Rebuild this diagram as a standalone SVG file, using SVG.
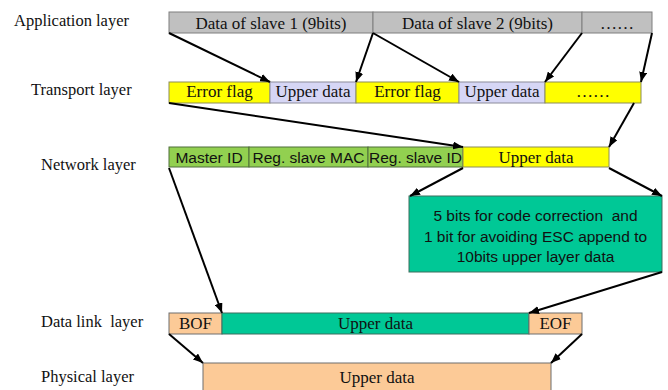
<svg xmlns="http://www.w3.org/2000/svg" width="668" height="390" viewBox="0 0 668 390">
  <style>
    .lbl { font-family: "Liberation Serif", "Times New Roman", serif; font-size: 16.5px; fill: #111; }
    .serif { font-family: "Liberation Serif", "Times New Roman", serif; font-size: 17px; fill: #111; text-anchor: middle; }
    .sans { font-family: "Liberation Sans", Arial, sans-serif; font-size: 15.5px; fill: #111; text-anchor: middle; }
    .gray { fill: #C0C0C0; stroke: #7F7F7F; stroke-width: 1; }
    .yel { fill: #FFFF00; stroke: #8C8C5A; stroke-width: 1; }
    .lav { fill: #D6D6F5; stroke: #8C8C9A; stroke-width: 1; }
    .grn { fill: #92D050; stroke: #4F6F3A; stroke-width: 1; }
    .teal { fill: #00C896; stroke: #3C6E5E; stroke-width: 1; }
    .peach { fill: #FCCA97; stroke: #6E6E6E; stroke-width: 1; }
    .conn line { stroke: #000; stroke-width: 2; marker-end: url(#arr); }
  </style>
  <defs>
    <marker id="arr" markerUnits="userSpaceOnUse" markerWidth="10" markerHeight="8" viewBox="0 0 10 8" refX="10" refY="4" orient="auto">
      <path d="M0,0 L10,4 L0,8 z" fill="#000"/>
    </marker>
  </defs>

  <rect width="668" height="390" fill="#fff"/>

  <!-- layer names -->
  <g id="layer-labels">
    <text class="lbl" x="14" y="26">Application layer</text>
    <text class="lbl" x="31" y="95">Transport layer</text>
    <text class="lbl" x="41" y="170">Network layer</text>
    <text class="lbl" x="41" y="327" xml:space="preserve">Data link  layer</text>
    <text class="lbl" x="41" y="382">Physical layer</text>
  </g>

  <!-- application layer -->
  <g id="app-slave1"><rect class="gray" x="169" y="12" width="204" height="21"/><text class="serif" x="271" y="29">Data of slave 1 (9bits)</text></g>
  <g id="app-slave2"><rect class="gray" x="373" y="12" width="209" height="21"/><text class="serif" x="477.5" y="29">Data of slave 2 (9bits)</text></g>
  <g id="app-more"><rect class="gray" x="582" y="12" width="70" height="21"/><text class="serif" x="617" y="29">……</text></g>

  <!-- transport layer -->
  <g id="tr-err1"><rect class="yel" x="169" y="82" width="101" height="21"/><text class="serif" x="219.5" y="97">Error flag</text></g>
  <g id="tr-up1"><rect class="lav" x="270" y="82" width="86" height="21"/><text class="serif" x="313" y="97">Upper data</text></g>
  <g id="tr-err2"><rect class="yel" x="356" y="82" width="103" height="21"/><text class="serif" x="407.5" y="97">Error flag</text></g>
  <g id="tr-up2"><rect class="lav" x="459" y="82" width="86" height="21"/><text class="serif" x="502" y="97">Upper data</text></g>
  <g id="tr-more"><rect class="yel" x="545" y="82" width="96" height="21"/><text class="serif" x="593" y="97">……</text></g>

  <!-- network layer -->
  <g id="nw-master"><rect class="grn" x="169" y="147" width="80" height="20"/><text class="sans" x="209" y="163">Master ID</text></g>
  <g id="nw-mac"><rect class="grn" x="249" y="147" width="119" height="20"/><text class="sans" x="308.5" y="163">Reg. slave MAC</text></g>
  <g id="nw-slaveid"><rect class="grn" x="368" y="147" width="95" height="20"/><text class="sans" x="415.5" y="163">Reg. slave ID</text></g>
  <g id="nw-upper"><rect class="yel" x="463" y="147" width="146" height="20"/><text class="serif" x="536" y="163">Upper data</text></g>

  <!-- error-correction block -->
  <g id="ecc">
    <rect class="teal" x="409" y="196" width="253" height="76"/>
    <text class="sans" x="535.5" y="221" xml:space="preserve">5 bits for code correction  and</text>
    <text class="sans" x="535.5" y="242">1 bit for avoiding ESC append to</text>
    <text class="sans" x="535.5" y="262">10bits upper layer data</text>
  </g>

  <!-- data link layer -->
  <g id="dl-bof"><rect class="peach" x="169" y="313" width="53" height="21"/><text class="serif" x="195.5" y="329">BOF</text></g>
  <g id="dl-upper"><rect class="teal" x="222" y="313" width="307" height="21"/><text class="serif" x="375.5" y="329">Upper data</text></g>
  <g id="dl-eof"><rect class="peach" x="529" y="313" width="53" height="21"/><text class="serif" x="555.5" y="329">EOF</text></g>

  <!-- physical layer -->
  <g id="phy-upper"><rect class="peach" x="203" y="363" width="348" height="30"/><text class="serif" x="377" y="383">Upper data</text></g>

  <!-- connectors -->
  <g id="connectors" class="conn">
    <line x1="169" y1="33" x2="270" y2="82"/>
    <line x1="373" y1="33" x2="356" y2="82"/>
    <line x1="373" y1="33" x2="459" y2="82"/>
    <line x1="582" y1="33" x2="545" y2="82"/>
    <line x1="652" y1="33" x2="641" y2="82"/>
    <line x1="169" y1="103" x2="463" y2="147"/>
    <line x1="634" y1="103" x2="609" y2="147"/>
    <line x1="463" y1="168" x2="410" y2="196"/>
    <line x1="609" y1="168" x2="662" y2="196"/>
    <line x1="169" y1="168" x2="222" y2="313"/>
    <line x1="662" y1="272" x2="529" y2="313"/>
    <line x1="169" y1="334" x2="203" y2="363"/>
    <line x1="582" y1="334" x2="551" y2="363"/>
  </g>
</svg>
